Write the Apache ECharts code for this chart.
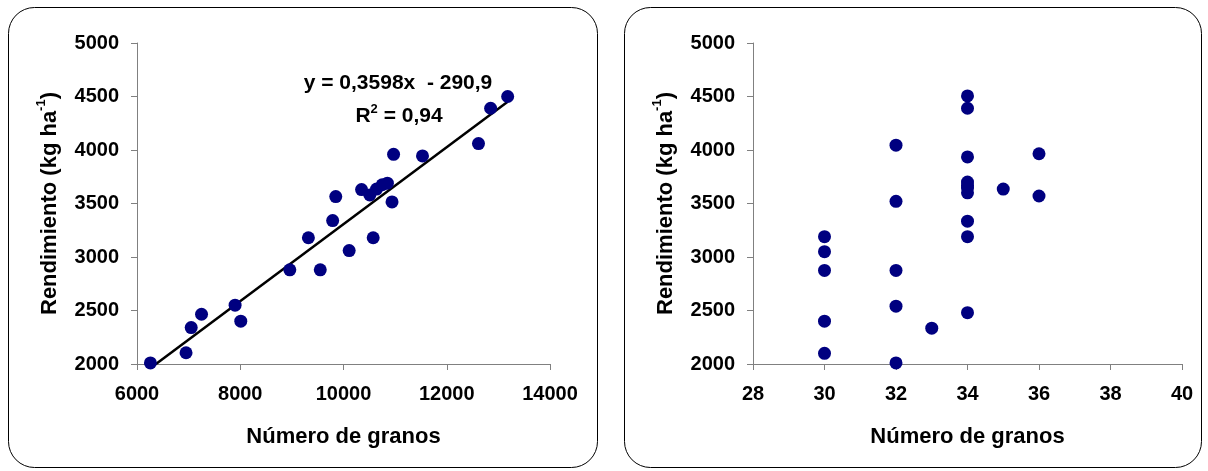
<!DOCTYPE html>
<html>
<head>
<meta charset="utf-8">
<script src="https://cdn.jsdelivr.net/npm/echarts@6/dist/echarts.min.js"></script>
<style>
html,body{margin:0;padding:0;background:#fff;}
#c{width:1208px;height:471px;}
</style>
</head>
<body>
<div id="c"></div>
<script>
// Left chart: Número de granos (per m2) vs Rendimiento
const grainsLeft = [6260, 6950, 7050, 7250, 7900, 8010, 8960, 9320, 9550, 9790, 9850, 10110, 10350, 10510, 10575, 10640, 10750, 10850, 10940, 10970, 11530, 12615, 12850, 13180];
const yieldLeft  = [2010, 2105, 2340, 2465, 2550, 2400, 2880, 3180, 2880, 3340, 3565, 3060, 3630, 3580, 3180, 3635, 3675, 3690, 3515, 3960, 3945, 4060, 4390, 4500];

// Right chart: Número de granos (per spike) vs Rendimiento
const grainsRight = [30, 30, 30, 30, 30, 32, 32, 32, 32, 32, 33, 34, 34, 34, 34, 34, 34, 34, 34, 34, 34, 35, 36, 36];
const yieldRight  = [3190, 3050, 2875, 2400, 2100, 4045, 3520, 2875, 2540, 2010, 2335, 4505, 4390, 3935, 3700, 3670, 3645, 3600, 3335, 3190, 2480, 3635, 3965, 3570];

// Trend line
const slope = 0.3598;
const intercept = -290.9;

const yTicks = [2000, 5000, 500];
const xTicksLeft = [6000, 14000, 2000];
const xTicksRight = [28, 40, 2];

const xName = 'Número de granos';
const eqText = 'y = 0,3598x  - 290,9';
const r2Text = '0,94';

const FONT = 'Liberation Sans, Arial, sans-serif';
const axisColor = '#808080';
const dotColor = '#000080';

const chart = echarts.init(document.getElementById('c'), null, {renderer: 'canvas'});

const xMinL = Math.min(...grainsLeft), xMaxL = Math.max(...grainsLeft);
const trend = [[xMinL, slope * xMinL + intercept], [xMaxL, slope * xMaxL + intercept]];

const plain = v => String(v);

function yAxisCfg(gridIndex) {
  return {
    gridIndex: gridIndex, type: 'value', min: yTicks[0], max: yTicks[1], interval: yTicks[2],
    name: '{a|Rendimiento (kg ha}{s|-1}{a|)}',
    nameLocation: 'middle', nameGap: 76, nameRotate: 90,
    nameTextStyle: {
      rich: {
        a: {fontFamily: FONT, fontWeight: 'bold', fontSize: 22, color: '#000', lineHeight: 26, verticalAlign: 'bottom'},
        s: {fontFamily: FONT, fontWeight: 'bold', fontSize: 13, color: '#000', lineHeight: 26, verticalAlign: 'top', padding: [0, 0, 10, 0]}
      }
    },
    axisLine: {show: true, lineStyle: {color: axisColor, width: 1}},
    axisTick: {show: true, length: 6, lineStyle: {color: axisColor}},
    axisLabel: {fontFamily: FONT, fontWeight: 'bold', fontSize: 20, color: '#000', margin: 18, formatter: plain},
    splitLine: {show: false}
  };
}
function xAxisCfg(gridIndex, t) {
  return {
    gridIndex: gridIndex, type: 'value', min: t[0], max: t[1], interval: t[2],
    name: xName, nameLocation: 'middle', nameGap: 62,
    nameTextStyle: {fontFamily: FONT, fontWeight: 'bold', fontSize: 22, color: '#000'},
    axisLine: {show: true, onZero: false, lineStyle: {color: axisColor, width: 1}},
    axisTick: {show: true, length: 6, lineStyle: {color: axisColor}},
    axisLabel: {fontFamily: FONT, fontWeight: 'bold', fontSize: 20, color: '#000', margin: 20, formatter: plain},
    splitLine: {show: false}
  };
}

const option = {
  backgroundColor: '#fff',
  animation: false,
  grid: [
    {left: 137, top: 43, width: 413, height: 321},
    {left: 753, top: 43, width: 429, height: 321}
  ],
  xAxis: [xAxisCfg(0, xTicksLeft), xAxisCfg(1, xTicksRight)],
  yAxis: [yAxisCfg(0), yAxisCfg(1)],
  graphic: [
    {type: 'rect', shape: {x: 8.5, y: 7.5, width: 589, height: 460, r: 26}, style: {fill: 'none', stroke: '#000', lineWidth: 1}, z: -1},
    {type: 'rect', shape: {x: 624.5, y: 7.5, width: 577, height: 460, r: 26}, style: {fill: 'none', stroke: '#000', lineWidth: 1}, z: -1},
    {type: 'text', x: 398, y: 83, style: {text: eqText, font: 'bold 21px ' + FONT, fill: '#000', textAlign: 'center', textVerticalAlign: 'middle'}},
    {type: 'text', x: 399, y: 115, style: {
      text: '{a|R}{s|2}{a| = ' + r2Text + '}', textAlign: 'center', textVerticalAlign: 'middle',
      rich: {
        a: {fontFamily: FONT, fontWeight: 'bold', fontSize: 21, fill: '#000', lineHeight: 24, verticalAlign: 'bottom'},
        s: {fontFamily: FONT, fontWeight: 'bold', fontSize: 13, fill: '#000', lineHeight: 24, verticalAlign: 'top', padding: [0, 0, 8, 0]}
      }
    }}
  ],
  series: [
    {
      type: 'line', xAxisIndex: 0, yAxisIndex: 0, data: trend, showSymbol: false, symbol: 'none',
      lineStyle: {color: '#000', width: 2.5}, clip: true, z: 1
    },
    {
      type: 'scatter', xAxisIndex: 0, yAxisIndex: 0, symbolSize: 13,
      itemStyle: {color: dotColor, opacity: 1},
      data: grainsLeft.map((x, i) => [x, yieldLeft[i]]), z: 2
    },
    {
      type: 'scatter', xAxisIndex: 1, yAxisIndex: 1, symbolSize: 13,
      itemStyle: {color: dotColor, opacity: 1},
      data: grainsRight.map((x, i) => [x, yieldRight[i]]), z: 2
    }
  ]
};
chart.setOption(option);
</script>
</body>
</html>
